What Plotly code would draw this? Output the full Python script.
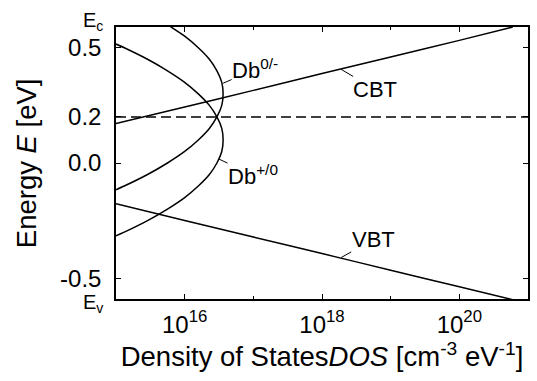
import plotly.graph_objects as go

# ---- data ----
# Conduction band tail (CBT): DOS [cm^-3 eV^-1] vs energy [eV]
cbt_dos = [1e15, 1e16, 1e17, 1e18, 1e19, 1e20, 6e20]
cbt_e = [0.171, 0.243, 0.315, 0.388, 0.460, 0.532, 0.590]

# Valence band tail (VBT)
vbt_dos = [1e15, 1e16, 1e17, 1e18, 1e19, 1e20, 6e20]
vbt_e = [-0.177, -0.249, -0.321, -0.393, -0.465, -0.537, -0.593]

# Dangling bond Db+/0 (centred near 0.1 eV)
dbp_e = [-0.316, -0.30, -0.25, -0.20, -0.15, -0.10, -0.05, 0.00, 0.05, 0.10,
         0.15, 0.20, 0.25, 0.30, 0.35, 0.40, 0.45, 0.50, 0.516]
dbp_dos = [1.0e15, 1.32e15, 2.88e15, 5.62e15, 1.0e16, 1.58e16, 2.29e16, 2.95e16, 3.47e16, 3.63e16,
           3.47e16, 2.95e16, 2.29e16, 1.58e16, 1.0e16, 5.62e15, 2.88e15, 1.32e15, 1.0e15]

# Dangling bond Db0/- (centred near 0.3 eV)
dbm_e = [-0.116, -0.10, -0.05, 0.00, 0.05, 0.10, 0.15, 0.20, 0.25, 0.30,
         0.35, 0.40, 0.45, 0.50, 0.55, 0.60]
dbm_dos = [1.0e15, 1.32e15, 2.88e15, 5.62e15, 1.0e16, 1.58e16, 2.29e16, 2.95e16, 3.47e16, 3.63e16,
           3.47e16, 2.95e16, 2.29e16, 1.58e16, 1.0e16, 5.62e15]

fermi_e = 0.2

x_tickvals = [1e16, 1e18, 1e20]
x_ticktext = ["10<sup>16</sup>", "10<sup>18</sup>", "10<sup>20</sup>"]
x_minorvals = [1e15, 1e17, 1e19, 1e21]
y_tickvals = [0.5, 0.2, 0.0, -0.5]
y_ticktext = ["0.5", "0.2", "0.0", "-0.5"]

FONT = "Liberation Sans, Arial, sans-serif"
TICK_FS = 24
TITLE_FS = 27.5
ANN_FS = 22
line = dict(color="black", width=1.5)

fig = go.Figure()
for xs, ys in [(cbt_dos, cbt_e), (vbt_dos, vbt_e), (dbp_dos, dbp_e), (dbm_dos, dbm_e)]:
    fig.add_trace(go.Scatter(x=xs, y=ys, mode="lines", line=dict(line, shape="spline", smoothing=0.6),
                             showlegend=False, hoverinfo="skip", cliponaxis=True))

fig.add_hline(y=fermi_e, line=dict(color="black", width=1.5, dash="10px,5px"))

axis_common = dict(showline=True, linecolor="black", linewidth=1.5, mirror="ticks",
                   ticks="inside", tickcolor="black", tickwidth=1.2, showgrid=False,
                   zeroline=False, tickfont=dict(family=FONT, size=TICK_FS, color="black"))

fig.update_xaxes(type="log", range=[15, 21], tickmode="array", tickvals=x_tickvals,
                 ticktext=x_ticktext, ticklen=5, ticklabelstandoff=3,
                 minor=dict(tickmode="array", tickvals=x_minorvals, ticks="inside", ticklen=3,
                            tickcolor="black", tickwidth=1.2, showgrid=False),
                 title=dict(text="Density of States<i>DOS</i> [cm<sup>-3</sup> eV<sup>-1</sup>]",
                            font=dict(family=FONT, size=TITLE_FS, color="black"), standoff=3),
                 **axis_common)
fig.update_yaxes(range=[-0.59, 0.59], tickmode="array", tickvals=y_tickvals, ticktext=y_ticktext,
                 ticklen=5, ticklabelstandoff=8, **axis_common)

# y-axis title as a rotated annotation so it can sit closer to the page edge
fig.add_annotation(x=-0.218, y=0.5, xref="paper", yref="paper", text="Energy <i>E</i> [eV]",
                   textangle=-90, showarrow=False, xanchor="center", yanchor="middle",
                   font=dict(family=FONT, size=TITLE_FS, color="black"))

ann_font = dict(family=FONT, size=ANN_FS, color="black")
labels = [
    # (text, x log10, y, ax, ay)
    ("Db<sup>0/-</sup>", 16.56, 0.346, 32, -14),
    ("Db<sup>+/0</sup>", 16.50, 0.017, 34, 16),
    ("CBT", 18.28, 0.406, 34, 20),
    ("VBT", 18.28, -0.41, 32, -18),
]
for text, lx, ly, ax, ay in labels:
    fig.add_annotation(x=lx, y=ly, xref="x", yref="y", text=text, showarrow=True,
                       arrowhead=0, arrowwidth=1, arrowcolor="black", ax=ax, ay=ay,
                       font=ann_font, borderpad=0)

edge_font = dict(family=FONT, size=20, color="black")
fig.add_annotation(x=-0.055, y=1.022, xref="paper", yref="paper", text="E<sub>c</sub>",
                   showarrow=False, font=edge_font, xanchor="center", yanchor="middle")
fig.add_annotation(x=-0.055, y=-0.016, xref="paper", yref="paper", text="E<sub>v</sub>",
                   showarrow=False, font=edge_font, xanchor="center", yanchor="middle")

fig.update_layout(width=537, height=381, margin=dict(l=116, r=7, t=27, b=82),
                  paper_bgcolor="white", plot_bgcolor="white", showlegend=False)

fig.write_html("out.html")
